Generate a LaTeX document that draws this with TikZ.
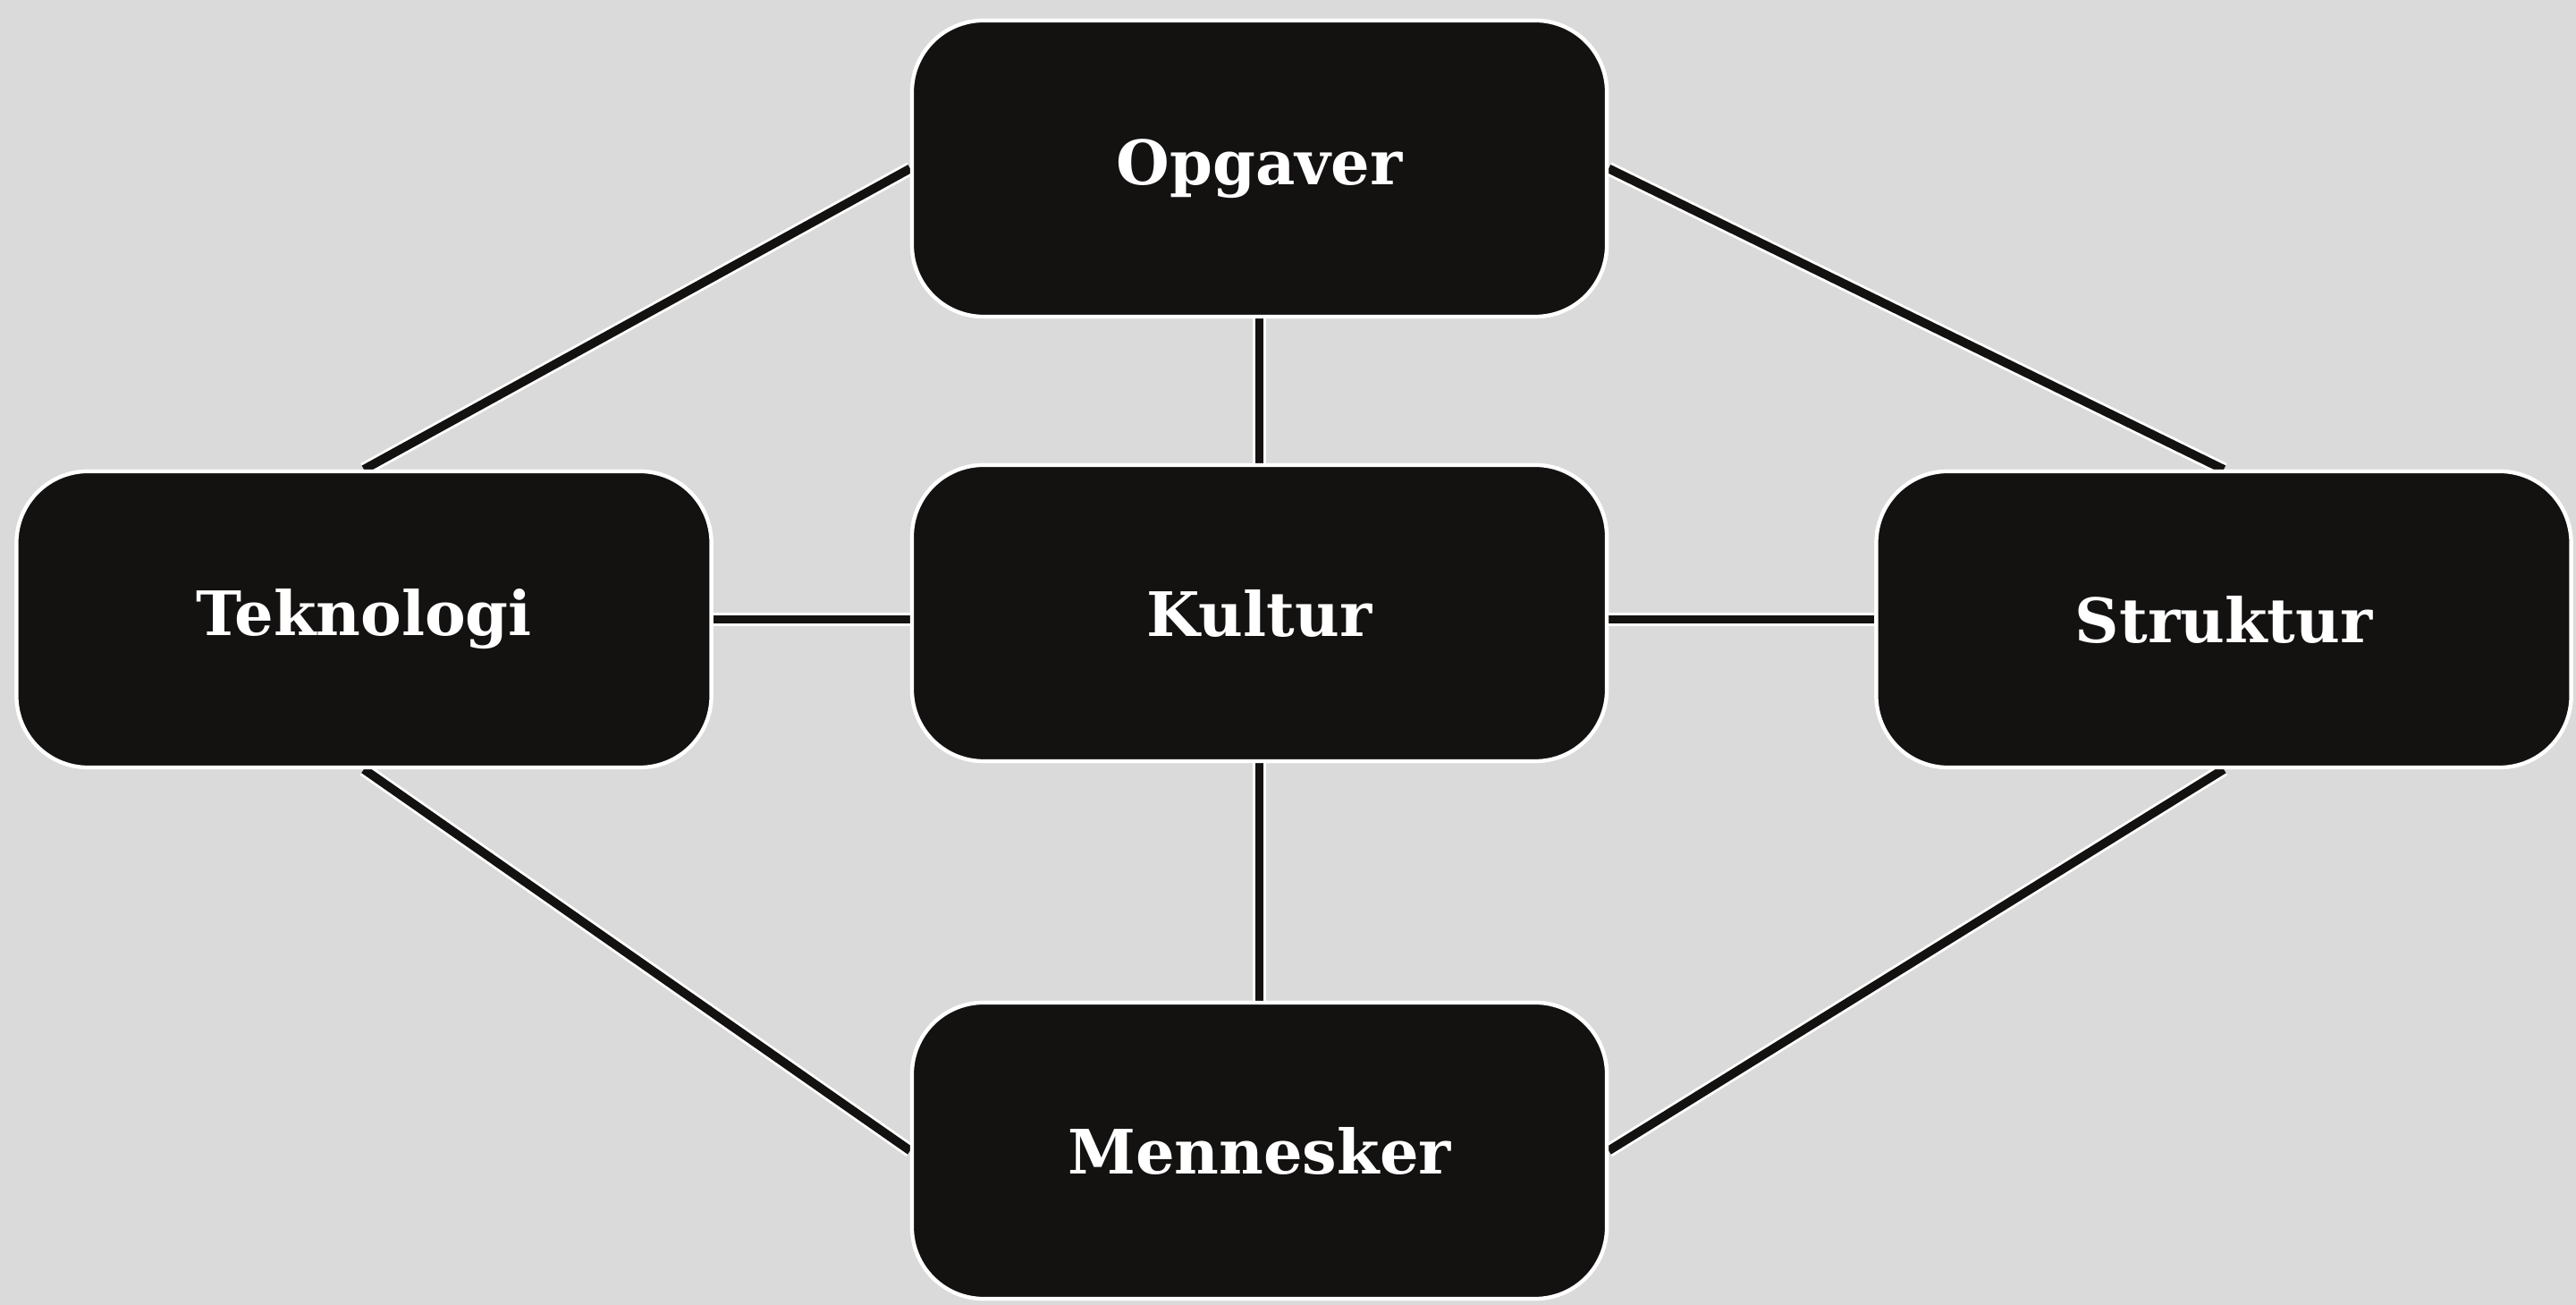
\documentclass[tikz,border=0pt]{standalone}
\usepackage{fontspec}
\setmainfont{DejaVu Serif}
\definecolor{bg}{HTML}{DADADA}
\definecolor{boxfill}{HTML}{141111}
\begin{document}
\begin{tikzpicture}[
  box/.style={rectangle, rounded corners=0.8cm, minimum width=7.77cm, minimum height=3.31cm,
    fill=boxfill, draw=white, line width=1.2pt, text=white, inner sep=0pt,
    font=\fontsize{19.5}{22}\selectfont\bfseries},
  link/.style={draw=boxfill, line width=2.8pt, preaction={draw=white, line width=4.4pt}}
]
\fill[bg] (0,0) rectangle (28.81,14.59);
\useasboundingbox (0,0) rectangle (28.81,14.59);
\node[box] (opg) at (14.085,12.705) {Opgaver};
\node[box] (tek) at (4.07,7.665) {Teknologi};
\node[box] (kul) at (14.085,7.735) {Kultur};
\node[box] (str) at (24.87,7.665) {Struktur};
\node[box] (men) at (14.085,1.725) {Mennesker};
\path[link] (opg.west) -- (tek.north);
\path[link] (opg.east) -- (str.north);
\path[link] (tek.south) -- (men.west);
\path[link] (str.south) -- (men.east);
\path[link] (opg.south) -- (kul.north);
\path[link] (kul.south) -- (men.north);
\path[link] (tek.east) -- (tek.east -| kul.west);
\path[link] (str.west -| kul.east) -- (str.west);
\node[box] at (opg) {Opgaver};
\node[box] at (tek) {Teknologi};
\node[box] at (kul) {Kultur};
\node[box] at (str) {Struktur};
\node[box] at (men) {Mennesker};
\end{tikzpicture}
\end{document}
